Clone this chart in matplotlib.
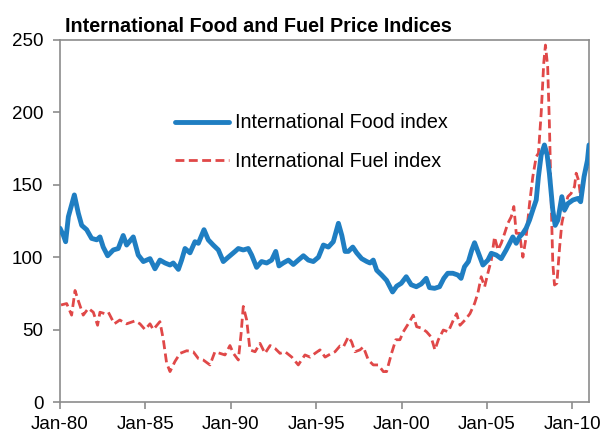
# International food and fuel price indices, Jan-80 to end of 2010

import matplotlib
matplotlib.use("Agg")

import matplotlib.pyplot as plt


# Values (decimal years, index values)
FOOD_YEARS = [
    1980.0, 1980.2, 1980.33, 1980.49, 1980.84, 1981.07, 1981.27, 1981.56, 1981.85, 1982.15,
    1982.34, 1982.53, 1982.79, 1983.12, 1983.41, 1983.7, 1983.9, 1984.29, 1984.58, 1984.88,
    1985.27, 1985.56, 1985.85, 1986.15, 1986.44, 1986.63, 1986.93, 1987.12, 1987.32, 1987.61,
    1987.9, 1988.1, 1988.43, 1988.68, 1988.97, 1989.27, 1989.56, 1989.85, 1990.25, 1990.44,
    1990.73, 1991.02, 1991.22, 1991.51, 1991.8, 1992.1, 1992.39, 1992.63, 1992.82, 1993.07,
    1993.37, 1993.66, 1993.95, 1994.25, 1994.54, 1994.83, 1995.13, 1995.42, 1995.71, 1996.0,
    1996.3, 1996.5, 1996.69, 1996.88, 1997.14, 1997.37, 1997.66, 1997.96, 1998.15, 1998.34,
    1998.54, 1998.83, 1999.12, 1999.47, 1999.71, 1999.98, 2000.27, 2000.56, 2000.86, 2001.15,
    2001.44, 2001.63, 2001.93, 2002.22, 2002.47, 2002.7, 2003.0, 2003.29, 2003.48, 2003.68,
    2003.91, 2004.11, 2004.27, 2004.46, 2004.76, 2005.05, 2005.25, 2005.54, 2005.83, 2006.12,
    2006.32, 2006.51, 2006.71, 2006.9, 2007.1, 2007.29, 2007.49, 2007.68, 2007.88, 2008.01,
    2008.17, 2008.36, 2008.52, 2008.65, 2008.85, 2008.99, 2009.15, 2009.38, 2009.54, 2009.73,
    2010.03, 2010.32, 2010.48, 2010.68, 2010.88, 2010.97,
]
FOOD_INDEX = [
    120, 115, 110.7, 128, 143, 130.5, 122, 119, 113, 112,
    114, 107, 101, 105, 106, 115, 108.4, 114, 101.5, 97,
    99, 92, 98, 96, 94.6, 96, 91.6, 98, 106, 103,
    110.7, 109.6, 119, 112, 108.4, 105, 97, 100, 104, 106,
    105, 106, 101.5, 93, 97, 96, 98, 104, 94, 96,
    98, 95, 98, 101, 98, 97, 100, 108.4, 107, 110.7,
    123.4, 115, 104, 104, 107, 103, 99, 97, 96, 98,
    91, 87.7, 84, 76, 80, 82, 86.5, 81, 79.6, 81.5,
    85.4, 79, 78.5, 79.6, 85.4, 88.9, 88.9, 87.7, 85.4, 93.4,
    97, 105, 110, 104, 94.6, 98, 102.7, 101.5, 99, 105,
    109.6, 114, 109.6, 114, 116.5, 120, 125.7, 132.6, 139.5, 155.6,
    170.6, 177.5, 170.6, 158, 132.6, 122, 125.7, 141.8, 132.6, 137,
    139.5, 140.6, 138.3, 155.6, 167, 177.5,
]

FUEL_YEARS = [
    1980.06, 1980.39, 1980.68, 1980.88, 1981.07, 1981.36, 1981.66, 1981.95, 1982.2, 1982.34,
    1982.63, 1982.83, 1983.18, 1983.5, 1983.9, 1984.39, 1984.68, 1984.98, 1985.27, 1985.46,
    1985.85, 1986.05, 1986.24, 1986.44, 1986.73, 1987.03, 1987.42, 1987.8, 1988.1, 1988.39,
    1988.78, 1989.07, 1989.37, 1989.66, 1989.95, 1990.15, 1990.44, 1990.6, 1990.73, 1990.93,
    1991.12, 1991.42, 1991.71, 1992.0, 1992.3, 1992.59, 1992.88, 1993.18, 1993.57, 1993.95,
    1994.34, 1994.64, 1994.93, 1995.22, 1995.52, 1995.81, 1996.1, 1996.39, 1996.59, 1996.88,
    1997.07, 1997.27, 1997.56, 1997.76, 1998.05, 1998.34, 1998.63, 1998.93, 1999.12, 1999.41,
    1999.66, 1999.9, 2000.1, 2000.39, 2000.68, 2000.88, 2001.17, 2001.46, 2001.72, 2001.95,
    2002.15, 2002.44, 2002.73, 2003.03, 2003.22, 2003.42, 2003.71, 2004.0, 2004.27, 2004.46,
    2004.66, 2004.86, 2005.05, 2005.25, 2005.44, 2005.64, 2005.83, 2006.03, 2006.22, 2006.42,
    2006.57, 2006.71, 2006.9, 2007.1, 2007.29, 2007.49, 2007.68, 2007.88, 2008.01, 2008.17,
    2008.32, 2008.42, 2008.55, 2008.65, 2008.75, 2008.85, 2008.95, 2009.09, 2009.25, 2009.38,
    2009.54, 2009.73, 2009.92, 2010.12, 2010.22, 2010.36, 2010.48, 2010.6, 2010.75, 2010.88,
]
FUEL_INDEX = [
    67, 68, 60, 77, 70, 60, 64.7, 62, 53, 62,
    61, 62, 54, 56.6, 54, 56, 54, 50, 54, 50,
    55.5, 43, 27, 21, 28, 33.6, 35.4, 34.7, 30, 29,
    25.6, 34.7, 33.6, 32.5, 39, 33.6, 29, 47, 66, 56.6,
    36, 34.7, 40.5, 33.6, 39, 37, 33.6, 34.7, 31, 25.6,
    32.5, 31, 33.6, 36, 31, 33, 34.7, 38.7, 38, 45,
    41.6, 34.7, 36, 38, 29, 25.6, 25.6, 21, 21, 33.6,
    43, 43, 48.5, 54, 60, 52, 51, 48.5, 45, 36,
    43, 49.7, 48.5, 56.6, 61, 53, 56.6, 61, 68, 75,
    86.5, 79.6, 89, 98, 114, 105, 109.6, 116.5, 123.4, 128,
    135, 116.5, 116.5, 100, 114, 137, 155.6, 169.4, 171.8, 199.4,
    234, 246.5, 231.6, 192.5, 141.8, 95.8, 80.8, 82, 107, 123.4,
    132.6, 141.8, 144, 148.7, 158, 153, 141.8, 151, 158, 162.5,
]

TICK_YEARS = [1980, 1985, 1990, 1995, 2000, 2005, 2010]
TICK_LABELS = ["Jan-80", "Jan-85", "Jan-90", "Jan-95", "Jan-00", "Jan-05", "Jan-10"]
Y_TICKS = [0, 50, 100, 150, 200, 250]

FOOD_COLOR = "#1f7ec2"
FUEL_COLOR = "#e04848"
AXIS_GRAY = "#8c8c8c"

plt.rcParams["font.family"] = ["Liberation Sans", "DejaVu Sans"]

fig = plt.figure(figsize=(6.05, 4.36), dpi=100)
ax = fig.add_axes([60 / 605, 1 - 402 / 436, 529 / 605, 362 / 436])

ax.plot(FOOD_YEARS, FOOD_INDEX, color=FOOD_COLOR, linewidth=3.5,
        solid_joinstyle="round", solid_capstyle="round",
        label="International Food index", zorder=3)
ax.plot(FUEL_YEARS, FUEL_INDEX, color=FUEL_COLOR, linewidth=2.0,
        linestyle=(0, (3.2, 1.6)), label="International Fuel index", zorder=2)

ax.set_xlim(1980, 2010.97)
ax.set_ylim(0, 250)
ax.set_xticks(TICK_YEARS)
ax.set_xticklabels(TICK_LABELS)
ax.set_yticks(Y_TICKS)

for spine in ax.spines.values():
    spine.set_color(AXIS_GRAY)
    spine.set_linewidth(1.2)

ax.tick_params(axis="both", direction="out", length=5, width=1.2,
               color=AXIS_GRAY, labelsize=13.5, labelcolor="black")
ax.tick_params(axis="y", pad=7)
ax.tick_params(axis="x", pad=5)

ax.legend(loc="upper left", bbox_to_anchor=(0.217, 0.797), frameon=False,
          fontsize=14.2, handlelength=2.75, handletextpad=0.28,
          labelspacing=1.0, borderpad=0, borderaxespad=0)

fig.text(65 / 605, 1 - 26 / 436, "International Food and Fuel Price Indices",
         fontsize=14.2, fontweight="bold", va="center", ha="left")

fig.savefig("out.png", dpi=100)
